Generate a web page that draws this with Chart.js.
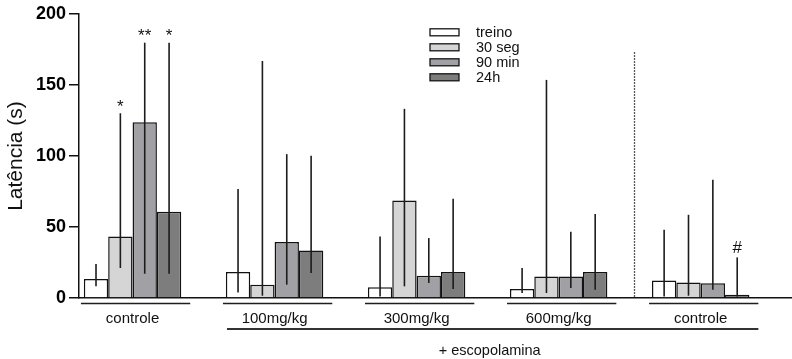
<!DOCTYPE html>
<html>
<head>
<meta charset="utf-8">
<script src="https://cdn.jsdelivr.net/npm/chart.js@4/dist/chart.umd.min.js"></script>
<style>
  html, body { margin: 0; padding: 0; background: #ffffff; }
  #wrap { width: 792px; height: 359px; }
</style>
</head>
<body>
<div id="wrap"><canvas id="chart" width="792" height="359"></canvas></div>
<script>
// Groups along the x axis and the four test sessions
const groups = ['controle', '100mg/kg', '300mg/kg', '600mg/kg', 'controle'];
const seriesNames = ['treino', '30 seg', '90 min', '24h'];

// Median latency (s) per group
const treino = [13.4, 18.3, 7.5, 6.4, 12.4];
const seg30  = [43.3, 9.4, 68.7, 15.2, 11.0];
const min90  = [123.8, 39.4, 15.7, 15.2, 10.3];
const h24    = [60.7, 33.5, 18.3, 18.3, 2.3];

// Interquartile range [low, high] per group
const treinoRange = [[8.2, 23.9], [3.9, 76.7], [1.1, 43.3], [3.5, 21.1], [1.1, 48.0]];
const seg30Range  = [[21.1, 130.1], [1.6, 166.9], [8.2, 133.2], [3.5, 153.6], [1.6, 58.6]];
const min90Range  = [[17.1, 179.8], [9.4, 101.3], [10.6, 42.2], [7.0, 46.6], [5.8, 83.2]];
const h24Range    = [[17.1, 179.8], [17.6, 100.1], [6.3, 69.9], [5.8, 59.1], [1.0, 28.6]];

// Y axis ticks
const yTicks = [0, 50, 100, 150, 200];

// Significance marks: group index, series index, symbol
const markGroup  = [0, 0, 0, 4];
const markSeries = [1, 2, 3, 3];
const markText   = ['*', '**', '*', '#'];

const FONT = '"Liberation Sans", Arial, Helvetica, sans-serif';
const fills = ['#ffffff', '#d5d5d5', '#a1a1a5', '#7d7d7d'];
const seriesValues = [treino, seg30, min90, h24];
const seriesRanges = [treinoRange, seg30Range, min90Range, h24Range];

const datasets = seriesNames.map((name, s) => ({
  label: name,
  data: seriesValues[s].map((v, g) => ({ x: g, y: v })),
  range: seriesRanges[s],
  backgroundColor: fills[s],
  borderColor: '#121212',
  borderWidth: 1.5,
  borderSkipped: 'bottom',
  categoryPercentage: 0.686,
  barPercentage: 1.0
}));

// Error bars, significance marks, separator, group brackets and legend
const decor = {
  id: 'decor',
  afterDatasetsDraw(chart) {
    const ctx = chart.ctx;
    const ys = chart.scales.y, xs = chart.scales.x;
    ctx.save();
    ctx.strokeStyle = '#1c1c1c';
    ctx.lineWidth = 1.6;
    chart.data.datasets.forEach((ds, di) => {
      chart.getDatasetMeta(di).data.forEach((bar, i) => {
        const [lo, hi] = ds.range[i];
        ctx.beginPath();
        ctx.moveTo(bar.x, ys.getPixelForValue(lo));
        ctx.lineTo(bar.x, ys.getPixelForValue(hi));
        ctx.stroke();
      });
    });

    // significance symbols above the error bars
    ctx.fillStyle = '#111111';
    ctx.font = '17px ' + FONT;
    ctx.textAlign = 'center';
    ctx.textBaseline = 'alphabetic';
    markText.forEach((t, k) => {
      const s = markSeries[k], g = markGroup[k];
      const bar = chart.getDatasetMeta(s).data[g];
      const hiPx = ys.getPixelForValue(chart.data.datasets[s].range[g][1]);
      const m = ctx.measureText(t);
      const base = hiPx - 10.5 - (m.actualBoundingBoxDescent - m.actualBoundingBoxAscent) / 2;
      ctx.fillText(t, bar.x, base);
    });

    // dotted separator before the last control group
    const sx = Math.round(xs.getPixelForValue(3.53)) + 0.5;
    ctx.setLineDash([1.4, 1.6]);
    ctx.lineWidth = 1.3;
    ctx.strokeStyle = '#222222';
    ctx.beginPath();
    ctx.moveTo(sx, ys.getPixelForValue(173));
    ctx.lineTo(sx, ys.getPixelForValue(0));
    ctx.stroke();
    ctx.restore();
  },
  afterDraw(chart) {
    const ctx = chart.ctx;
    const xs = chart.scales.x;
    const bottom = chart.chartArea.bottom;
    ctx.save();
    ctx.strokeStyle = '#1e1e1e';
    ctx.lineWidth = 1.5;
    const lineL = -51.6, lineR = 57.7;
    groups.forEach((g, i) => {
      const cx = xs.getPixelForValue(i);
      ctx.beginPath();
      ctx.moveTo(cx + lineL, bottom + 5.5);
      ctx.lineTo(cx + lineR, bottom + 5.5);
      ctx.stroke();
    });
    // scopolamine bracket under the treated groups
    const bx0 = xs.getPixelForValue(1) + lineL + 4;
    const bx1 = xs.getPixelForValue(4) + lineR;
    ctx.lineWidth = 1.8;
    ctx.strokeStyle = '#333333';
    ctx.beginPath();
    ctx.moveTo(bx0, bottom + 31);
    ctx.lineTo(bx1, bottom + 31);
    ctx.stroke();
    ctx.fillStyle = '#111111';
    ctx.font = '14.5px ' + FONT;
    ctx.textAlign = 'center';
    ctx.textBaseline = 'alphabetic';
    ctx.fillText('+ escopolamina', (bx0 + bx1) / 2 - 3, bottom + 57);

    // legend
    const lx = 430, ly = 32.3, row = 15;
    ctx.font = '14.5px ' + FONT;
    ctx.textAlign = 'left';
    ctx.textBaseline = 'middle';
    chart.data.datasets.forEach((ds, i) => {
      const cy = ly + i * row;
      ctx.fillStyle = ds.backgroundColor;
      ctx.fillRect(lx, cy - 3.5, 29, 7);
      ctx.lineWidth = 1.3;
      ctx.strokeStyle = '#151515';
      ctx.strokeRect(lx, cy - 3.5, 29, 7);
      ctx.fillStyle = '#111111';
      ctx.fillText(ds.label, lx + 46, cy + 0.5);
    });
    ctx.restore();
  }
};

new Chart(document.getElementById('chart'), {
  type: 'bar',
  data: { datasets },
  options: {
    responsive: false,
    animation: false,
    layout: { padding: { top: 14, right: 0, bottom: 0, left: 0 } },
    plugins: { legend: { display: false }, tooltip: { enabled: false } },
    scales: {
      x: {
        type: 'linear',
        min: -0.377,
        max: 4.643,
        offset: false,
        afterBuildTicks: (scale) => { scale.ticks = groups.map((g, i) => ({ value: i })); },
        afterFit: (scale) => { scale.height = 61; },
        grid: { display: false, drawTicks: false, tickLength: 0 },
        border: { display: true, color: '#111111', width: 1.5 },
        ticks: {
          autoSkip: false,
          maxRotation: 0,
          padding: 12,
          color: '#111111',
          font: { family: FONT, size: 15 },
          callback: (value, index) => groups[index]
        }
      },
      y: {
        min: 0,
        max: 200,
        afterBuildTicks: (scale) => { scale.ticks = yTicks.map(v => ({ value: v })); },
        afterFit: (scale) => { scale.width = 79; },
        grid: { drawOnChartArea: false, drawTicks: true, tickLength: 10, color: '#111111', lineWidth: 1.5 },
        border: { display: true, color: '#111111', width: 1.5 },
        ticks: {
          padding: 3,
          color: '#000000',
          font: { family: FONT, size: 18, weight: 'bold' }
        },
        title: {
          display: true,
          text: 'Latência (s)',
          color: '#111111',
          font: { family: FONT, size: 21 },
          padding: { top: 4, bottom: 0 }
        }
      }
    }
  },
  plugins: [decor]
});
</script>
</body>
</html>
